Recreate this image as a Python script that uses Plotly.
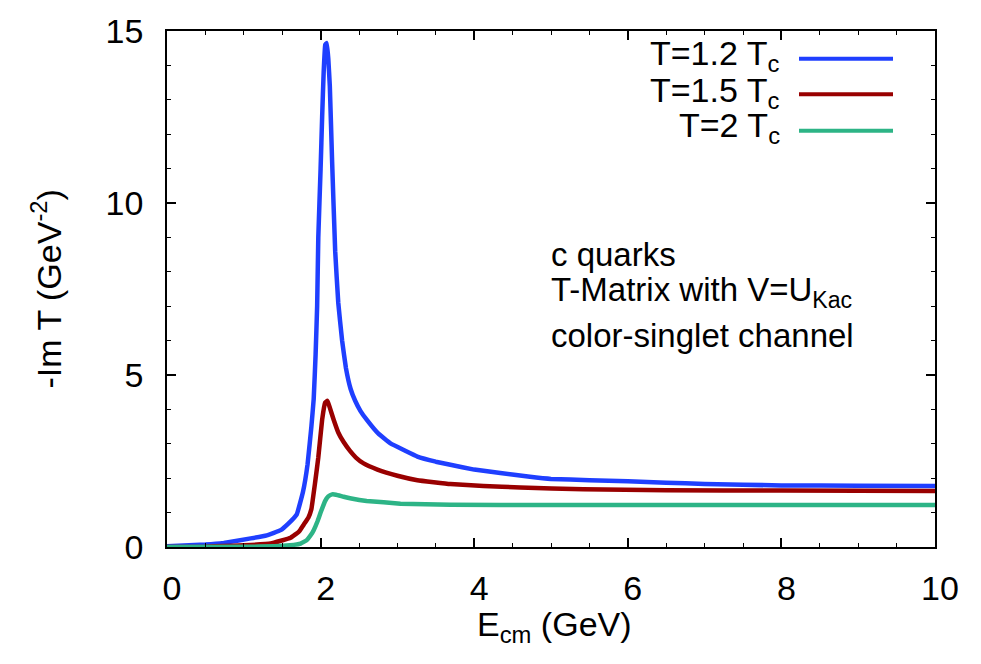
import plotly.graph_objects as go

# -Im T of the c-quark T-matrix (colour-singlet channel) vs. centre-of-mass energy
e_12 = [0.0, 0.5, 0.74, 1.09, 1.3, 1.48, 1.58, 1.69, 1.77, 1.83, 1.88, 1.91, 1.935, 1.955,
        1.97, 2.0, 2.02, 2.04, 2.06, 2.08, 2.10, 2.12, 2.15, 2.19, 2.23, 2.28, 2.33, 2.39,
        2.45, 2.52, 2.6, 2.75, 2.91, 3.1, 3.26, 3.5, 3.69, 4.0, 4.34, 4.7, 5.0, 5.5, 6.0,
        6.5, 7.0, 8.0, 9.0, 10.0]
imt_12 = [0.02, 0.07, 0.12, 0.25, 0.34, 0.49, 0.68, 0.95, 1.6, 2.4, 3.5, 4.3, 5.6, 7.0,
          9.0, 11.0, 12.5, 13.8, 14.6, 14.65, 14.2, 13.4, 11.2, 8.6, 7.1, 6.0, 5.2, 4.6,
          4.25, 3.95, 3.7, 3.3, 3.01, 2.8, 2.63, 2.48, 2.39, 2.25, 2.15, 2.05, 1.98, 1.94,
          1.91, 1.87, 1.83, 1.79, 1.78, 1.77]

e_15 = [0.0, 0.5, 0.74, 1.0, 1.35, 1.61, 1.72, 1.78, 1.84, 1.88, 1.93, 1.97, 2.02, 2.06,
        2.09, 2.12, 2.17, 2.23, 2.3, 2.38, 2.46, 2.56, 2.74, 3.0, 3.26, 3.69, 4.12, 4.6,
        5.42, 6.5, 8.0, 10.0]
imt_15 = [0.0, 0.01, 0.03, 0.05, 0.1, 0.27, 0.45, 0.65, 0.85, 1.1, 1.9, 2.6, 3.7, 4.2,
          4.25, 4.05, 3.7, 3.33, 3.05, 2.8, 2.6, 2.43, 2.25, 2.07, 1.94, 1.83, 1.77, 1.73,
          1.68, 1.65, 1.64, 1.63]

e_20 = [0.0, 1.0, 1.4, 1.6, 1.74, 1.82, 1.87, 1.91, 1.96, 2.0, 2.06, 2.1, 2.15, 2.2,
        2.3, 2.4, 2.6, 3.04, 3.69, 5.0, 7.0, 10.0]
imt_20 = [0.0, 0.005, 0.02, 0.05, 0.1, 0.2, 0.34, 0.49, 0.75, 1.0, 1.34, 1.47, 1.53,
          1.52, 1.46, 1.41, 1.34, 1.26, 1.23, 1.22, 1.22, 1.22]

series = [
    ("T=1.2 T<sub>c</sub>", e_12, imt_12, "#1f3fff"),
    ("T=1.5 T<sub>c</sub>", e_15, imt_15, "#990000"),
    ("T=2 T<sub>c</sub>", e_20, imt_20, "#2db486"),
]

FONT = "Liberation Sans, Arial, sans-serif"
FS = 34
W, H = 981, 664
ML, MR, MT, MB = 167, 46, 24, 117

fig = go.Figure()
for name, x, y, col in series:
    fig.add_trace(go.Scatter(x=x, y=y, mode="lines", name=name,
                             line=dict(color=col, width=4.5, shape="spline", smoothing=0.25),
                             showlegend=False))

axis_common = dict(showgrid=False, zeroline=False, showline=True, linecolor="black",
                   linewidth=1.5, mirror="allticks", ticks="inside", ticklen=9,
                   tickwidth=1.5, tickcolor="black",
                   tickfont=dict(family=FONT, size=FS, color="black"))
fig.update_xaxes(range=[0, 10], dtick=2, tick0=0,
                 minor=dict(dtick=0.5, ticks="inside", ticklen=4, tickwidth=1.2,
                            tickcolor="black"),
                 ticklabelstandoff=10, ticklabelshift=5, **axis_common)
fig.update_yaxes(range=[0, 15], dtick=5, tick0=0,
                 minor=dict(dtick=1, ticks="inside", ticklen=4, tickwidth=1.2,
                            tickcolor="black"),
                 ticklabelstandoff=15, **axis_common)

pw = W - ML - MR
ph = H - MT - MB

def px_x(p):
    return (p - ML) / pw

def px_y(p):
    return 1 - (p - MT) / ph

anns = []
# axis titles
anns.append(dict(text="E<sub>cm</sub> (GeV)", xref="paper", yref="paper",
                 x=px_x(554), y=px_y(628), xanchor="center", yanchor="middle",
                 showarrow=False, font=dict(family=FONT, size=FS, color="black")))
anns.append(dict(text="-Im T (GeV<sup>-2</sup>)", xref="paper", yref="paper",
                 x=px_x(46), y=px_y(286), xanchor="center", yanchor="middle",
                 textangle=-90, showarrow=False,
                 font=dict(family=FONT, size=FS, color="black")))
# description block
for txt, yc in [("c quarks", 251), ("T-Matrix with V=U<sub>Kac</sub>", 289),
                ("color-singlet channel", 333)]:
    anns.append(dict(text=txt, xref="paper", yref="paper", x=px_x(549), y=px_y(yc),
                     xanchor="left", yanchor="middle", showarrow=False,
                     font=dict(family=FONT, size=33, color="black")))

# key: right-aligned labels with line samples to their right
shapes = []
for (name, _, _, col), yt, yl in zip(series, [49, 86, 122], [52, 88, 125]):
    anns.append(dict(text=name, xref="paper", yref="paper", x=px_x(782), y=px_y(yt),
                     xanchor="right", yanchor="middle", showarrow=False,
                     font=dict(family=FONT, size=FS, color="black")))
    shapes.append(dict(type="line", xref="paper", yref="paper",
                       x0=px_x(799), x1=px_x(893), y0=px_y(yl), y1=px_y(yl),
                       line=dict(color=col, width=4)))

fig.update_layout(width=W, height=H, margin=dict(l=ML, r=MR, t=MT, b=MB),
                  paper_bgcolor="white", plot_bgcolor="white",
                  annotations=anns, shapes=shapes, showlegend=False,
                  font=dict(family=FONT, color="black"))

fig.write_html("out.html")
